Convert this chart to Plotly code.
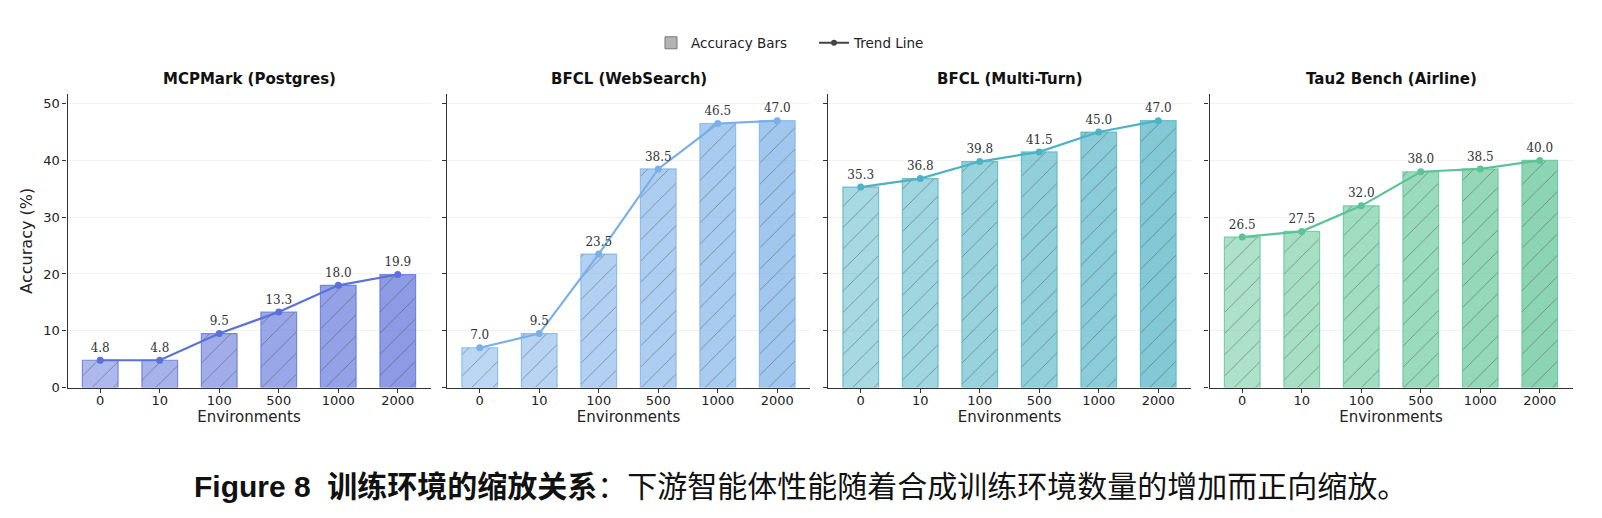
import plotly.graph_objects as go
from plotly.subplots import make_subplots

# data
envs = ["0", "10", "100", "500", "1000", "2000"]
titles = ["MCPMark (Postgres)", "BFCL (WebSearch)", "BFCL (Multi-Turn)", "Tau2 Bench (Airline)"]
mcpmark = [4.8, 4.8, 9.5, 13.3, 18.0, 19.9]
bfcl_web = [7.0, 9.5, 23.5, 38.5, 46.5, 47.0]
bfcl_multi = [35.3, 36.8, 39.8, 41.5, 45.0, 47.0]
tau2_airline = [26.5, 27.5, 32.0, 38.0, 38.5, 40.0]
series = [mcpmark, bfcl_web, bfcl_multi, tau2_airline]
colors = [(91, 113, 217), (122, 176, 232), (77, 179, 196), (92, 196, 148)]

# page has an 8px body margin, so the figure is made a bit smaller
OFF = 8
W, H = 1602 - 2 * OFF, 518 - 2 * OFF
px_left = [67.5, 447, 828, 1209.5]
px_w = 363
y_bot, y_top = 387.5, 94

def fx(x):
    return (x - OFF) / W

def fy(y):
    return 1 - (y - OFF) / H

def rgba(c, a):
    return "rgba(%d,%d,%d,%.2f)" % (c[0], c[1], c[2], a)

fig = make_subplots(rows=1, cols=4, shared_yaxes=True)

for i, vals in enumerate(series):
    c = colors[i]
    alphas = [0.5 + 0.04 * k for k in range(len(vals))]
    fig.add_trace(go.Bar(
        x=list(range(len(vals))), y=vals, width=0.6,
        marker=dict(color=[rgba(c, a) for a in alphas],
                    line=dict(color=rgba(c, 0.75), width=1.2),
                    pattern=dict(shape="/", fillmode="overlay", fgcolor=rgba(c, 0.8),
                                 size=15, solidity=0.06)),
        showlegend=False, hoverinfo="skip"), row=1, col=i + 1)
    fig.add_trace(go.Scatter(
        x=list(range(len(vals))), y=vals, mode="lines+markers+text",
        line=dict(color=rgba(c, 1), width=2.2),
        marker=dict(color=rgba(c, 1), size=7),
        text=["%.1f" % v for v in vals], textposition="top center",
        textfont=dict(family="DejaVu Serif", size=12, color="#333333"),
        showlegend=False, cliponaxis=False), row=1, col=i + 1)

# legend entries
fig.add_trace(go.Bar(x=[None], y=[None], name="Accuracy Bars",
                     marker=dict(color="#b3b3b3", line=dict(color="#777777", width=1))), row=1, col=1)
fig.add_trace(go.Scatter(x=[None], y=[None], name="Trend Line", mode="lines+markers",
                         line=dict(color="#444444", width=2), marker=dict(size=6, color="#444444")), row=1, col=1)

axis_font = dict(family="DejaVu Sans", size=13, color="#222222")
for i in range(4):
    dom = [fx(px_left[i]), fx(px_left[i] + px_w)]
    fig.update_xaxes(domain=dom, range=[-0.55, 5.55], tickvals=list(range(6)), ticktext=envs,
                     showline=True, linecolor="#333333", linewidth=1.2, mirror=False,
                     ticks="outside", ticklen=4, tickcolor="#333333", showgrid=False,
                     zeroline=False, tickfont=axis_font, automargin=False, ticklabelstandoff=-3,
                     title=dict(text="Environments", font=dict(family="DejaVu Sans", size=15, color="#222222"),
                                standoff=0),
                     row=1, col=i + 1)
    fig.update_yaxes(domain=[fy(y_bot), fy(y_top)], range=[0, 51.7],
                     tickvals=[0, 10, 20, 30, 40, 50], showline=True, linecolor="#333333",
                     linewidth=1.2, ticks="outside", ticklen=4, tickcolor="#333333",
                     showgrid=True, gridcolor="#f2f2f2", gridwidth=1, zeroline=False,
                     tickfont=axis_font, showticklabels=(i == 0), automargin=False,
                     row=1, col=i + 1)
    fig.add_annotation(text="<b>%s</b>" % titles[i], xref="paper", yref="paper",
                       x=fx(px_left[i] + px_w / 2), y=fy(79), xanchor="center",
                       yanchor="middle", showarrow=False,
                       font=dict(family="DejaVu Sans", size=15, color="#111111"))

fig.update_yaxes(title=dict(text="Accuracy (%)", font=dict(family="DejaVu Sans", size=16, color="#222222"),
                            standoff=6), row=1, col=1)

fig.add_annotation(
    text="<b>Figure 8  训练环境的缩放关系</b>：下游智能体性能随着合成训练环境数量的增加而正向缩放。",
    xref="paper", yref="paper", x=fx(800), y=fy(486), xanchor="center", yanchor="middle",
    showarrow=False,
    font=dict(family="Liberation Sans, Noto Sans CJK SC", size=30, color="#111111"))

fig.update_layout(
    width=W, height=H, margin=dict(l=0, r=0, t=0, b=0),
    plot_bgcolor="white", paper_bgcolor="white", bargap=0.4,
    legend=dict(orientation="h", x=fx(814), y=fy(43), xanchor="center", yanchor="middle",
                entrywidth=118, itemwidth=30,
                font=dict(family="DejaVu Sans", size=13.5, color="#222222")),
)

fig.write_html("out.html")
